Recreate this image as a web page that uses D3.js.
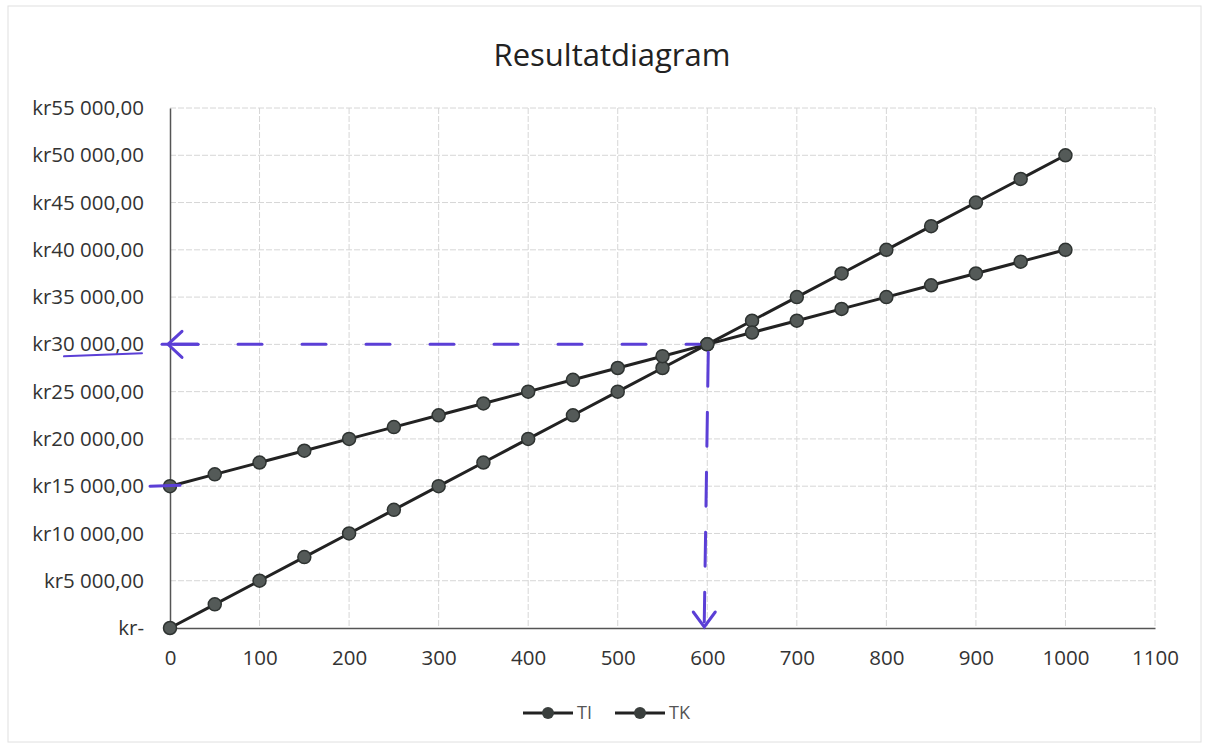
<!DOCTYPE html>
<html lang="nb">
<head>
<meta charset="utf-8">
<title>Resultatdiagram</title>
<script src="https://cdn.jsdelivr.net/npm/d3@7"></script>
<style>
body { margin: 0; background: #fff; }
svg { display: block; }
</style>
</head>
<body>
<script>
// data
var units = [0, 50, 100, 150, 200, 250, 300, 350, 400, 450, 500, 550, 600, 650, 700, 750, 800, 850, 900, 950, 1000];
var ti = [0, 2500, 5000, 7500, 10000, 12500, 15000, 17500, 20000, 22500, 25000, 27500, 30000, 32500, 35000, 37500, 40000, 42500, 45000, 47500, 50000];
var tk = [15000, 16250, 17500, 18750, 20000, 21250, 22500, 23750, 25000, 26250, 27500, 28750, 30000, 31250, 32500, 33750, 35000, 36250, 37500, 38750, 40000];
var seriesNames = ["TI", "TK"];
var xTicks = [0, 100, 200, 300, 400, 500, 600, 700, 800, 900, 1000, 1100];
var yTicks = [0, 5000, 10000, 15000, 20000, 25000, 30000, 35000, 40000, 45000, 50000, 55000];
var breakEven = {x: 600, y: 30000};

var w = 1209, h = 748;
var margin = {top: 108, right: 54, bottom: 120, left: 170};

var svg = d3.select("body").append("svg")
    .attr("width", w)
    .attr("height", h);

// faint chart border from the scan
svg.append("rect")
    .attr("x", 8).attr("y", 6)
    .attr("width", w - 16).attr("height", h - 12)
    .attr("fill", "none")
    .attr("stroke", "#e0e0e0")
    .attr("stroke-width", 1);

var x = d3.scaleLinear().domain([0, 1100]).range([margin.left, w - margin.right]);
var y = d3.scaleLinear().domain([0, 55000]).range([h - margin.bottom, margin.top]);

var nok = d3.formatLocale({decimal: ",", thousands: " ", grouping: [3], currency: ["kr", ""]});
var fmt = nok.format("$,.2f");
function yLabel(d) { return d === 0 ? "kr-" : fmt(d); }

var font = "'Open Sans', Lato, sans-serif";

// gridlines
svg.append("g").selectAll("line")
    .data(xTicks.slice(1))
    .enter().append("line")
    .attr("x1", function(d) { return x(d); })
    .attr("x2", function(d) { return x(d); })
    .attr("y1", y(55000)).attr("y2", y(0))
    .attr("stroke", "#d6d6d6")
    .attr("stroke-dasharray", "6 2");

svg.append("g").selectAll("line")
    .data(yTicks.slice(1))
    .enter().append("line")
    .attr("x1", x(0)).attr("x2", x(1100))
    .attr("y1", function(d) { return y(d); })
    .attr("y2", function(d) { return y(d); })
    .attr("stroke", "#d6d6d6")
    .attr("stroke-dasharray", "6 2");

// axes
var xAxis = svg.append("g")
    .attr("transform", "translate(0," + y(0) + ")")
    .call(d3.axisBottom(x).tickValues(xTicks).tickFormat(d3.format("d")).tickSize(0).tickPadding(22));
var yAxis = svg.append("g")
    .attr("transform", "translate(" + x(0) + ",0)")
    .call(d3.axisLeft(y).tickValues(yTicks).tickFormat(yLabel).tickSize(0).tickPadding(26));

[xAxis, yAxis].forEach(function(g) {
    g.select(".domain").attr("stroke", "#555").attr("stroke-width", 1.5);
    g.selectAll("text")
        .attr("font-family", font)
        .attr("font-size", 20.5)
        .attr("fill", "#333");
});

// title
svg.append("text")
    .attr("x", 612).attr("y", 66)
    .attr("text-anchor", "middle")
    .attr("font-family", font)
    .attr("font-size", 31)
    .attr("fill", "#222")
    .text("Resultatdiagram");

// series
var line = d3.line()
    .x(function(d) { return x(d[0]); })
    .y(function(d) { return y(d[1]); });

[ti, tk].forEach(function(vals) {
    var pts = units.map(function(u, i) { return [u, vals[i]]; });
    var g = svg.append("g");
    g.append("path")
        .attr("d", line(pts))
        .attr("fill", "none")
        .attr("stroke", "#222")
        .attr("stroke-width", 3);
    g.selectAll("circle")
        .data(pts)
        .enter().append("circle")
        .attr("cx", function(d) { return x(d[0]); })
        .attr("cy", function(d) { return y(d[1]); })
        .attr("r", 6.5)
        .attr("fill", "#545a58")
        .attr("stroke", "#2e3331")
        .attr("stroke-width", 1.5);
});

// legend
var legend = svg.append("g").attr("transform", "translate(523,713)");
seriesNames.forEach(function(name, i) {
    var lg = legend.append("g").attr("transform", "translate(" + (i * 92) + ",0)");
    lg.append("line")
        .attr("x1", 0).attr("x2", 50)
        .attr("stroke", "#222").attr("stroke-width", 3);
    lg.append("circle")
        .attr("cx", 25).attr("r", 6)
        .attr("fill", "#3a3f3d");
    lg.append("text")
        .attr("x", 54).attr("dy", "0.36em")
        .attr("font-family", font)
        .attr("font-size", 18)
        .attr("fill", "#555")
        .text(name);
});

// hand-drawn break-even annotation
var pen = "#5b3fd6";
var ann = svg.append("g")
    .attr("stroke", pen)
    .attr("stroke-width", 3)
    .attr("stroke-linecap", "round")
    .attr("fill", "none");

ann.append("line")
    .attr("x1", x(0) + 4).attr("x2", x(breakEven.x) - 8)
    .attr("y1", y(breakEven.y)).attr("y2", y(breakEven.y))
    .attr("stroke-dasharray", "24 40");
ann.append("path")
    .attr("d", "M" + (x(0) + 12) + "," + (y(breakEven.y) - 13) +
        " L" + (x(0) - 2) + "," + y(breakEven.y) +
        " L" + (x(0) + 12) + "," + (y(breakEven.y) + 13));
ann.append("line")
    .attr("x1", x(0) - 8).attr("x2", x(0) + 28)
    .attr("y1", y(breakEven.y)).attr("y2", y(breakEven.y));
ann.append("line")
    .attr("x1", 64).attr("x2", 142)
    .attr("y1", y(breakEven.y) + 12).attr("y2", y(breakEven.y) + 9)
    .attr("stroke-width", 2);
ann.append("line")
    .attr("x1", 150).attr("x2", x(0) + 10)
    .attr("y1", y(15000)).attr("y2", y(15000) - 1);

ann.append("line")
    .attr("x1", x(breakEven.x) + 1).attr("x2", x(breakEven.x) - 3)
    .attr("y1", y(breakEven.y) + 8).attr("y2", y(0) - 6)
    .attr("stroke-dasharray", "34 26");
ann.append("path")
    .attr("d", "M" + (x(breakEven.x) - 14) + "," + (y(0) - 16) +
        " L" + (x(breakEven.x) - 3) + "," + (y(0) - 1) +
        " L" + (x(breakEven.x) + 8) + "," + (y(0) - 16));
</script>
</body>
</html>
